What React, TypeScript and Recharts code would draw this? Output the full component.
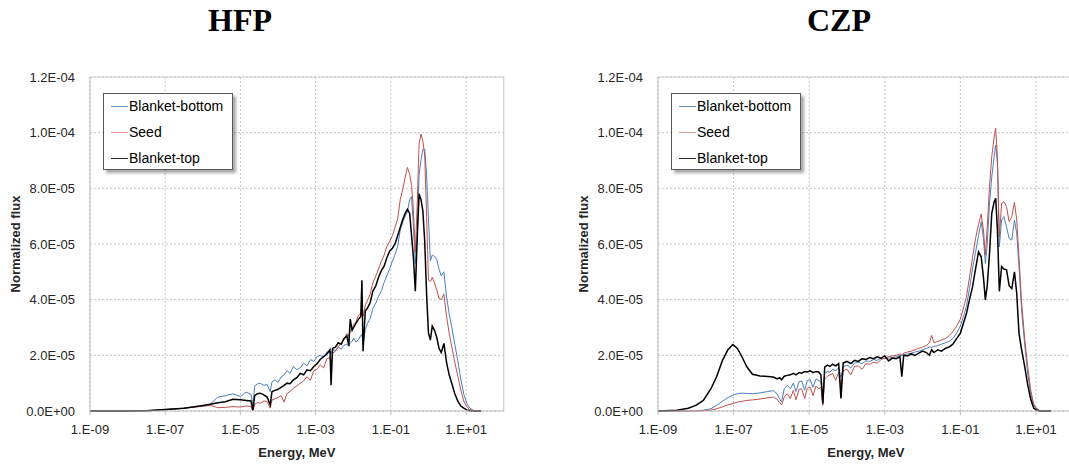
import React from 'react';
import { LineChart, Line, XAxis, YAxis, CartesianGrid, ReferenceLine } from 'recharts';

// energy grid is kept as log10(E / MeV); flux in units of 1e-5
const hfpLogE = [
  -9, -8, -7.5, -7, -6.5, -6, -5.8, -5.6, -5.4, -5.2,
  -5.0, -4.85, -4.72, -4.67, -4.62, -4.55, -4.47, -4.38, -4.29, -4.21,
  -4.16, -4.08, -4.0, -3.92, -3.84, -3.76, -3.68, -3.59, -3.5, -3.41,
  -3.32, -3.23, -3.14, -3.05, -2.96, -2.88, -2.79, -2.7, -2.62, -2.59,
  -2.55, -2.47, -2.4, -2.32, -2.25, -2.17, -2.12, -2.08, -2.03, -1.99,
  -1.93, -1.86, -1.8, -1.77, -1.74, -1.68, -1.62, -1.55, -1.48, -1.4,
  -1.33, -1.25, -1.18, -1.11, -1.03, -0.96, -0.89, -0.82, -0.75, -0.68,
  -0.62, -0.56, -0.5, -0.45, -0.4, -0.35, -0.3, -0.25, -0.2, -0.15,
  -0.1, -0.05, 0, 0.05, 0.1, 0.16, 0.22, 0.28, 0.34, 0.41,
  0.48, 0.55, 0.62, 0.7, 0.78, 0.86, 0.94, 1.02, 1.1, 1.2,
  1.4,
];
const hfpBottom = [
  0, 0, 0.01, 0.05, 0.1, 0.18, 0.25, 0.5, 0.55, 0.62,
  0.52, 0.68, 0.6, 0.2, 0.9, 0.97, 1.0, 0.92, 0.95, 0.7,
  1.05, 1.12, 1.02, 1.22, 1.3, 1.45, 1.35, 1.6, 1.48, 1.55,
  1.72, 1.62, 1.85, 1.78, 1.96, 2.0, 1.92, 2.12, 2.15, 2.05,
  2.2, 2.18, 2.3, 2.22, 2.36, 2.4, 2.32, 2.46, 2.5, 2.62,
  2.48, 2.56, 2.72, 2.75, 2.4, 2.92, 3.15, 3.32, 3.68, 3.88,
  4.12, 4.32, 4.62, 4.85, 5.12, 5.38, 5.62, 5.92, 6.5, 6.8,
  7.0, 7.15, 7.6, 7.7, 6.6, 5.3, 6.3, 8.5, 9.0, 9.4,
  9.4, 8.5, 6.9, 5.4, 5.6, 5.55, 5.45, 5.1, 4.85, 5.0,
  4.1, 3.5, 3.0, 2.4, 1.8, 1.15, 0.6, 0.27, 0.1, 0.02,
  0,
];
const hfpSeed = [
  0, 0, 0.01, 0.05, 0.1, 0.17, 0.2, 0.12, 0.13, 0.16,
  0.14, 0.18, 0.16, 0.0, 0.25, 0.3, 0.28, 0.36, 0.34, 0.1,
  0.4, 0.44, 0.48, 0.55, 0.32, 0.63, 0.7, 0.82, 0.9, 1.0,
  1.08, 1.23, 1.1, 1.45, 1.5, 1.66, 1.55, 1.88, 1.92, 1.7,
  2.08, 2.15, 2.3, 2.45, 2.55, 2.78, 2.68, 2.9, 2.95, 3.1,
  3.2, 3.45, 3.5, 3.6, 3.4, 3.8, 3.98, 4.2, 4.6, 4.85,
  5.1, 5.4, 5.6, 5.9, 6.1, 6.3, 6.6, 6.9, 7.6, 8.0,
  8.4, 8.75, 8.5, 8.1, 7.2, 5.7, 7.4, 9.6, 9.95, 9.7,
  9.2, 7.0, 4.7, 4.65, 4.8, 4.6, 4.35, 4.05, 4.0, 4.2,
  3.4, 2.8, 2.3, 1.75, 1.25, 0.75, 0.35, 0.15, 0.05, 0.01,
  0,
];
const hfpTop = [
  0, 0, 0.01, 0.05, 0.1, 0.2, 0.24, 0.3, 0.33, 0.42,
  0.4, 0.38, 0.36, 0.03, 0.55, 0.62, 0.64, 0.58, 0.5, 0.22,
  0.7, 0.74, 0.78, 0.85, 0.92, 1.0, 0.98, 1.12, 1.2, 1.35,
  1.3, 1.48, 1.45, 1.6, 1.7, 1.85, 1.95, 2.05, 2.2, 0.93,
  2.25, 2.3, 2.45, 2.4, 2.6, 2.7, 2.35, 3.3, 2.9, 3.0,
  3.15, 3.3, 3.4, 4.7, 2.15, 3.6, 3.7, 3.9, 4.3, 4.5,
  4.8, 5.05, 5.2, 5.5, 5.75, 5.85, 6.0, 6.3, 6.6, 6.9,
  7.1, 7.25, 7.1, 6.3, 5.5, 4.3, 6.2, 7.8, 7.6, 7.2,
  6.1, 4.2, 2.8, 2.55, 3.05, 2.9, 2.65, 2.25, 2.1, 2.43,
  1.75, 1.3, 0.99, 0.62, 0.35, 0.18, 0.1, 0.04, 0.01, 0,
  0,
];

const czpLogE = [
  -9, -8.5, -8.2, -8, -7.8, -7.6, -7.45, -7.3, -7.15, -7.02,
  -6.9, -6.78, -6.65, -6.5, -6.3, -6.1, -5.95, -5.85, -5.78, -5.73,
  -5.66, -5.58, -5.5, -5.42, -5.35, -5.27, -5.2, -5.12, -5.05, -4.97,
  -4.9, -4.82, -4.75, -4.69, -4.64, -4.59, -4.52, -4.45, -4.38, -4.3,
  -4.22, -4.16, -4.1, -4.0, -3.9, -3.8, -3.7, -3.6, -3.5, -3.4,
  -3.3, -3.2, -3.1, -3.0, -2.9, -2.8, -2.7, -2.6, -2.55, -2.5,
  -2.4, -2.3, -2.2, -2.1, -2.0, -1.9, -1.82, -1.76, -1.7, -1.6,
  -1.5, -1.4, -1.3, -1.2, -1.1, -1.0, -0.92, -0.84, -0.76, -0.68,
  -0.6, -0.52, -0.45, -0.39, -0.34, -0.29, -0.23, -0.17, -0.11, -0.066,
  -0.02, 0.03, 0.09, 0.15, 0.22, 0.29, 0.36, 0.43, 0.49, 0.55,
  0.62, 0.7, 0.78, 0.86, 0.94, 1.02, 1.1, 1.2, 1.4,
];
const czpBottom = [
  0, 0, 0, 0.01, 0.03, 0.08, 0.2, 0.35, 0.48, 0.57,
  0.62, 0.64, 0.63, 0.62, 0.65, 0.7, 0.73, 0.62, 0.42, 0.33,
  0.8, 0.92, 0.8, 1.0, 0.7, 1.05, 1.08, 0.75, 1.1, 1.12,
  0.85, 1.15, 1.1, 1.05, 0.25, 1.35, 1.42, 1.4, 1.5, 1.45,
  1.55, 1.2, 1.58, 1.65, 1.55, 1.72, 1.75, 1.7, 1.8, 1.78,
  1.85, 1.82, 1.9, 1.88, 1.9, 1.92, 1.95, 2.0, 1.98, 2.02,
  2.05, 2.08, 2.12, 2.15, 2.2, 2.25, 2.3, 2.28, 2.32, 2.35,
  2.4, 2.45, 2.5, 2.6, 2.8, 3.05, 3.4, 3.75, 4.4, 5.1,
  5.7, 6.3, 6.8, 6.2, 5.3, 6.0, 7.46, 8.42, 9.1, 9.56,
  8.9, 5.9, 6.86, 6.98, 6.62, 6.2, 6.14, 6.86, 6.38, 5.2,
  3.6, 2.4, 1.35, 0.6, 0.2, 0.06, 0.01, 0, 0,
];
const czpSeed = [
  0, 0, 0, 0, 0.01, 0.03, 0.08, 0.15, 0.22, 0.27,
  0.32, 0.35, 0.38, 0.4, 0.43, 0.47, 0.5, 0.42, 0.3, 0.22,
  0.5, 0.62, 0.45, 0.74, 0.4, 0.78, 0.8, 0.45, 0.82, 0.85,
  0.55, 0.9, 0.8, 0.85, 0.2, 1.15, 1.25, 1.3, 1.35, 1.1,
  1.4, 0.9, 1.45, 1.5, 1.3, 1.6, 1.62, 1.5, 1.7, 1.68,
  1.75, 1.72, 1.85, 1.9, 1.95, 1.98, 2.0, 2.05, 2.02, 2.08,
  2.12, 2.15, 2.2, 2.25, 2.3, 2.35, 2.45, 2.72, 2.45, 2.5,
  2.55, 2.6, 2.7, 2.85, 3.05, 3.3, 3.7, 4.1, 4.8, 5.5,
  6.2, 6.7, 7.08, 6.5, 5.6, 6.6, 8.06, 9.14, 9.8, 10.16,
  9.1, 6.26, 7.46, 7.52, 7.34, 6.8, 6.98, 7.5, 6.86, 5.5,
  3.9, 2.6, 1.6, 0.75, 0.25, 0.08, 0.02, 0, 0,
];
const czpTop = [
  0, 0.03, 0.1, 0.2, 0.38, 0.8, 1.23, 1.8, 2.2, 2.39,
  2.25, 1.95, 1.59, 1.32, 1.26, 1.24, 1.22, 1.15, 1.2, 1.12,
  1.25, 1.28, 1.3, 1.35, 1.3, 1.38, 1.36, 1.42, 1.4, 1.44,
  1.38, 1.42, 1.4, 1.3, 0.27, 1.58, 1.65, 1.6, 1.68, 1.62,
  1.7, 0.45, 1.72, 1.78, 1.7, 1.82, 1.78, 1.88, 1.85, 1.92,
  1.88, 1.95, 1.9, 1.98, 1.8, 1.9, 1.88, 1.95, 1.23, 2.0,
  1.98, 2.05, 2.0, 2.08, 2.15, 2.1, 2.0, 2.2, 2.1, 2.2,
  2.15, 2.25, 2.3, 2.4, 2.6, 2.8, 3.15, 3.5, 4.0, 4.45,
  5.1, 5.72, 5.54, 4.8, 3.99, 4.5, 5.66, 7.1, 7.5, 7.64,
  6.5, 4.3, 5.19, 5.1, 5.07, 4.5, 4.4, 5.0, 4.23, 2.8,
  2.2, 1.6, 0.95, 0.42, 0.1, 0.03, 0, 0, 0,
];

const xTicks = [1e-9, 1e-7, 1e-5, 1e-3, 1e-1, 10];
const xTickLabels = ['1.E-09', '1.E-07', '1.E-05', '1.E-03', '1.E-01', '1.E+01'];
const yTicks = [0, 2, 4, 6, 8, 10, 12];
const yTickLabels = ['0.0E+00', '2.0E-05', '4.0E-05', '6.0E-05', '8.0E-05', '1.0E-04', '1.2E-04'];

const seriesNames = ['Blanket-bottom', 'Seed', 'Blanket-top'];
const seriesColors = ['#4a7ebb', '#c0504d', '#000000'];

const FONT = '"Liberation Sans", Arial, sans-serif';
const TICK = { fontSize: 13, fill: '#262626', fontFamily: FONT };

function buildRows(logE: number[], bottom: number[], seed: number[], top: number[]) {
  return logE.map((e, i) => ({ energy: Math.pow(10, e), bottom: bottom[i], seed: seed[i], top: top[i] }));
}

function FluxLegend({ left }: { left: number }) {
  return (
    <div
      style={{
        position: 'absolute',
        left,
        top: 93,
        width: 130,
        height: 77,
        boxSizing: 'border-box',
        border: '1px solid #595959',
        background: '#fff',
        boxShadow: '3px 3px 3px rgba(0,0,0,0.35)',
        fontFamily: FONT,
        fontSize: 14,
        color: '#000',
      }}
    >
      {seriesNames.map((name, i) => (
        <div key={name} style={{ position: 'absolute', left: 0, top: 12 + i * 26 - 9, height: 18, display: 'flex', alignItems: 'center' }}>
          <div style={{ width: 17, marginLeft: 7, height: 1, background: seriesColors[i], opacity: i === 1 ? 0.6 : 0.85 }} />
          <span style={{ marginLeft: 1, whiteSpace: 'nowrap' }}>{name}</span>
        </div>
      ))}
    </div>
  );
}

interface PanelProps {
  left: number;
  width: number;
  axisWidth: number;
  marginRight: number;
  yLabelX: number;
  rows: ReturnType<typeof buildRows>;
}

function FluxPanel({ left, width, axisWidth, marginRight, yLabelX, rows }: PanelProps) {
  return (
    <div style={{ position: 'absolute', left, top: 0 }}>
      <LineChart width={width} height={464} data={rows} margin={{ top: 77, right: marginRight, left: 0, bottom: 0 }}>
        <CartesianGrid stroke="#c4c4c4" strokeDasharray="2 2" />
        <XAxis
          dataKey="energy"
          type="number"
          scale="log"
          domain={[1e-9, 100]}
          allowDataOverflow
          ticks={xTicks}
          tickFormatter={(v: number) => xTickLabels[xTicks.findIndex((t) => Math.abs(Math.log10(t) - Math.log10(v)) < 0.01)] ?? ''}
          height={53}
          tick={TICK}
          tickSize={4}
          tickMargin={10}
          stroke="#bfbfbf"
          label={{
            content: (p: any) => {
              const vb = p.viewBox || {};
              const cx = (vb.x ?? 0) + (vb.width ?? 0) / 2;
              return (
                <text x={cx} y={452.6} textAnchor="middle" dominantBaseline="central" fontFamily={FONT} fontSize={13} fontWeight="bold" fill="#262626">
                  Energy, MeV
                </text>
              );
            },
          }}
        />
        <YAxis
          type="number"
          domain={[0, 12]}
          ticks={yTicks}
          tickFormatter={(v: number) => yTickLabels[yTicks.indexOf(v)] ?? ''}
          width={axisWidth}
          tick={TICK}
          tickLine={false}
          tickSize={0}
          tickMargin={15}
          stroke="#bfbfbf"
          label={{
            content: () => (
              <text
                x={yLabelX}
                y={244}
                transform={`rotate(-90 ${yLabelX} 244)`}
                textAnchor="middle"
                dominantBaseline="central"
                fontFamily={FONT}
                fontSize={13}
                fontWeight="bold"
                fill="#262626"
              >
                Normalized  flux
              </text>
            ),
          }}
        />
        <ReferenceLine y={12} stroke="#d0d0d0" />
        <ReferenceLine x={100} stroke="#d0d0d0" />
        <Line type="linear" dataKey="bottom" stroke={seriesColors[0]} strokeWidth={1} dot={false} isAnimationActive={false} />
        <Line type="linear" dataKey="seed" stroke={seriesColors[1]} strokeWidth={1} dot={false} isAnimationActive={false} />
        <Line type="linear" dataKey="top" stroke={seriesColors[2]} strokeWidth={1.5} dot={false} isAnimationActive={false} />
      </LineChart>
    </div>
  );
}

const titleStyle: React.CSSProperties = {
  position: 'absolute',
  top: 2,
  width: 120,
  textAlign: 'center',
  fontFamily: '"Liberation Serif", "Times New Roman", serif',
  fontWeight: 'bold',
  fontSize: 32,
  lineHeight: '36px',
  color: '#000',
};

export default function App() {
  const hfpRows = buildRows(hfpLogE, hfpBottom, hfpSeed, hfpTop);
  const czpRows = buildRows(czpLogE, czpBottom, czpSeed, czpTop);
  return (
    <div style={{ position: 'absolute', left: 0, top: 0, width: 1069, height: 464, overflow: 'hidden', background: '#fff' }}>
      <div style={{ ...titleStyle, left: 180 }}>HFP</div>
      <div style={{ ...titleStyle, left: 779 }}>CZP</div>
      <FluxPanel left={0} width={540} axisWidth={90} marginRight={36.3} yLabelX={15} rows={hfpRows} />
      <FluxPanel left={540} width={560} axisWidth={118} marginRight={26.2} yLabelX={43.7} rows={czpRows} />
      <FluxLegend left={103} />
      <FluxLegend left={671} />
    </div>
  );
}
